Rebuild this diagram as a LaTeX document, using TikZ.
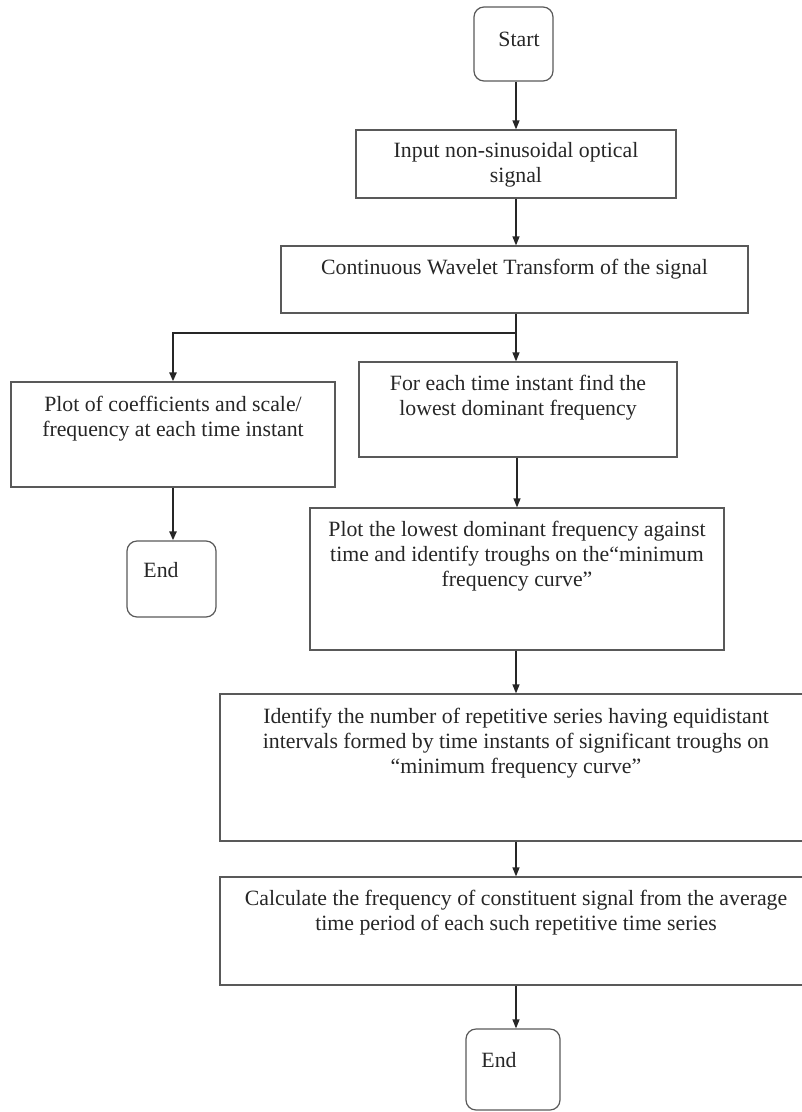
\documentclass[tikz,border=0pt]{standalone}
\usepackage{fontspec}
\setmainfont{Liberation Serif}
\usetikzlibrary{arrows.meta}

\colorlet{boxcol}{black!65}
\colorlet{linecol}{black!85}
\colorlet{txtcol}{black!85}

\tikzset{
  procbox/.style 2 args={draw=boxcol, line width=1.2pt, rectangle, inner sep=0,
                         minimum width=#1pt, minimum height=#2pt},
  termbox/.style 2 args={procbox={#1}{#2}, rounded corners=10pt},
  boxtext/.style={anchor=north, inner sep=0, align=center, text=txtcol,
                  font=\fontsize{21.8}{25}\selectfont},
  flow arrow/.style={-{Triangle[length=9pt,width=7pt]}, linecol, line width=1.2pt},
  flow line/.style={linecol, line width=1.2pt},
  heavy arrow/.style={flow arrow, line width=2.8pt},
}

\begin{document}
\begin{tikzpicture}[x=1pt, y=-1pt]
    % canvas 802 x 1112, one unit = one pixel of the original
    \useasboundingbox (0,0) rectangle (802,1112);

    % === Main column ===
    \node[termbox={79}{74},
          label={[boxtext, xshift=5.5pt, yshift=-25pt]north:Start}]
      (start) at (513.5, 44) {};
    \node[procbox={320}{68},
          label={[boxtext, yshift=-13pt]north:Input non-sinusoidal optical\\signal}]
      (input) at (516, 164) {};
    \node[procbox={467}{67},
          label={[boxtext, yshift=-14pt]north:Continuous Wavelet Transform of the signal}]
      (cwt) at (514.5, 279.5) {};

    % === Left branch ===
    \node[procbox={324}{105},
          label={[boxtext, yshift=-15pt]north:Plot of coefficients and scale/\\frequency at each time instant}]
      (plotcoef) at (173, 434.5) {};
    \node[termbox={89}{76},
          label={[boxtext, xshift=-10.5pt, yshift=-22pt]north:End}]
      (endleft) at (171.5, 579) {};

    % === Right branch ===
    \node[procbox={318}{95},
          label={[boxtext, yshift=-14pt]north:For each time instant find the\\lowest dominant frequency}]
      (lowest) at (518, 409.5) {};
    \node[procbox={414}{142},
          label={[boxtext, yshift=-14pt]north:Plot the lowest dominant frequency against\\time and identify troughs on the“minimum\\frequency curve”}]
      (plotlow) at (517, 579) {};
    \node[procbox={592}{147},
          label={[boxtext, yshift=-15pt]north:Identify the number of repetitive series having equidistant\\intervals formed by time instants of significant troughs on\\“minimum frequency curve”}]
      (series) at (516, 767.5) {};
    \node[procbox={592}{108},
          label={[boxtext, yshift=-14pt]north:Calculate the frequency of constituent signal from the average\\time period of each such repetitive time series}]
      (calc) at (516, 931) {};
    \node[termbox={94}{81},
          label={[boxtext, xshift=-14pt, yshift=-24pt]north:End}]
      (endright) at (513, 1069.5) {};

    % === Connectors ===
    \coordinate (split) at (516, 333);
    \draw[flow arrow] (start.south -| input.north) -- (input.north);
    \draw[flow arrow] (input.south) -- (input.south |- cwt.north);
    \draw[flow line] (split |- cwt.south) -- (split);
    \draw[heavy arrow] (split) -| (plotcoef.north);
    \draw[flow arrow] (split) -- (split |- lowest.north);
    \draw[heavy arrow] (plotcoef.south) -- (plotcoef.south |- endleft.north);
    \draw[flow arrow] (lowest.south -| plotlow.north) -- (plotlow.north);
    \draw[flow arrow] (plotlow.south -| series.north) -- (series.north);
    \draw[flow arrow] (series.south) -- (calc.north);
    \draw[flow arrow] (calc.south) -- (calc.south |- endright.north);
\end{tikzpicture}
\end{document}
